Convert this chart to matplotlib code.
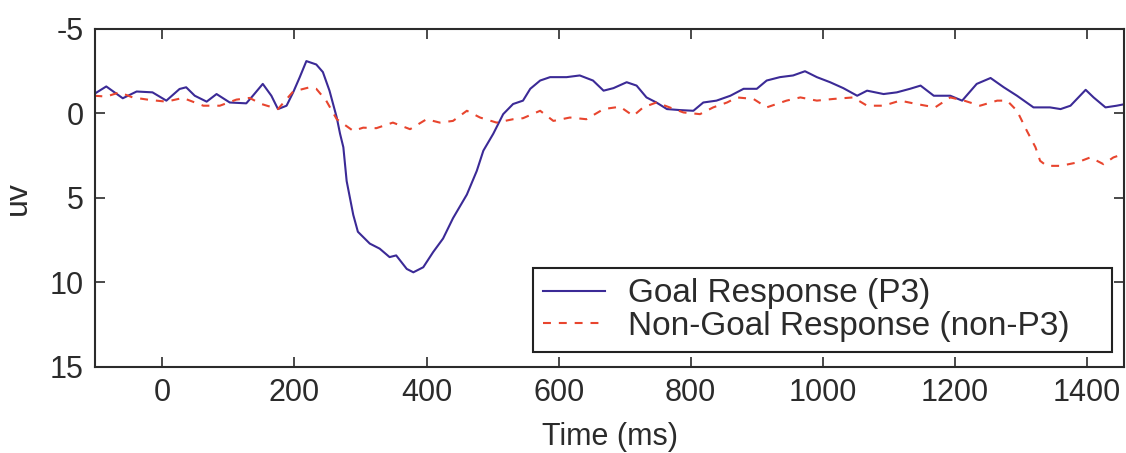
import numpy as np
import matplotlib.pyplot as plt

plt.rcParams["font.family"] = ["Liberation Sans", "DejaVu Sans"]
plt.rcParams["axes.unicode_minus"] = False

# Averaged ERP traces (uV, negative up) read at irregular times (ms)
goal_t = [-103, -85, -60, -39, -15, 6, 26, 36, 49, 67, 82, 102, 127, 137, 152,
          165, 175, 188, 198, 208, 218, 233, 243, 253, 264, 269, 274, 279, 289,
          296, 314, 329, 344, 354, 370, 380, 395, 410, 425, 440, 461, 476, 486,
          501, 516, 531, 546, 557, 572, 587, 612, 632, 652, 668, 683, 703, 718,
          733, 748, 764, 784, 804, 819, 839, 860, 880, 900, 915, 935, 955, 973,
          991, 1011, 1031, 1052, 1067, 1092, 1112, 1132, 1148, 1168, 1193, 1211,
          1233, 1254, 1274, 1294, 1319, 1344, 1360, 1375, 1398, 1410, 1428,
          1445, 1458]
goal_uv = [-1.16, -1.6, -0.9, -1.3, -1.25, -0.76, -1.45, -1.55, -1.05, -0.7,
           -1.15, -0.65, -0.6, -1.05, -1.75, -1.05, -0.26, -0.46, -1.25, -2.15,
           -3.1, -2.9, -2.45, -1.35, 0.24, 1.2, 2.0, 4.0, 6.0, 7.0, 7.7, 8.0,
           8.5, 8.4, 9.2, 9.4, 9.1, 8.2, 7.4, 6.2, 4.8, 3.4, 2.2, 1.2, 0.04,
           -0.56, -0.76, -1.46, -1.95, -2.15, -2.15, -2.25, -1.95, -1.35, -1.5,
           -1.85, -1.65, -0.95, -0.65, -0.26, -0.2, -0.16, -0.65, -0.76, -1.05,
           -1.46, -1.46, -1.95, -2.15, -2.25, -2.5, -2.15, -1.85, -1.5, -1.05,
           -1.35, -1.15, -1.25, -1.46, -1.65, -1.05, -1.05, -0.76, -1.75, -2.1,
           -1.55, -1.05, -0.36, -0.36, -0.26, -0.46, -1.4, -0.95, -0.36, -0.46,
           -0.56]

nongoal_t = [-103, -85, -65, -45, -19, 6, 31, 62, 87, 112, 132, 150, 175, 198,
             223, 233, 248, 264, 289, 304, 324, 349, 375, 400, 420, 440, 461,
             481, 506, 531, 546, 572, 592, 617, 642, 668, 693, 713, 728, 748,
             768, 789, 814, 834, 855, 870, 895, 915, 945, 966, 991, 1016, 1046,
             1067, 1092, 1117, 1142, 1170, 1193, 1214, 1238, 1264, 1279, 1294,
             1309, 1322, 1329, 1339, 1360, 1385, 1405, 1425, 1440, 1455]
nongoal_uv = [-1.05, -1.0, -1.25, -0.95, -0.8, -0.7, -0.92, -0.46, -0.46, -0.82,
              -0.92, -0.56, -0.26, -1.3, -1.55, -1.46, -0.76, 0.34, 1.03, 0.84,
              0.87, 0.54, 0.93, 0.34, 0.54, 0.44, -0.16, 0.24, 0.54, 0.34, 0.28,
              -0.16, 0.44, 0.24, 0.34, -0.26, -0.4, 0.14, -0.36, -0.65, -0.36,
              -0.06, 0.04, -0.36, -0.65, -0.95, -0.86, -0.36, -0.76, -0.95,
              -0.76, -0.86, -0.95, -0.46, -0.46, -0.76, -0.56, -0.36, -0.95,
              -0.76, -0.46, -0.76, -0.76, -0.16, 1.03, 2.0, 2.8, 3.1, 3.1, 2.9,
              2.6, 3.0, 2.6, 2.4]

x_ticks = [0, 200, 400, 600, 800, 1000, 1200, 1400]
y_ticks = [-5, 0, 5, 10, 15]

ink = "#2b2b2b"
fig = plt.figure(figsize=(11.26, 4.53), dpi=100)
ax = fig.add_axes([0.0844, 0.19, 0.9138, 0.746])

ax.plot(goal_t, goal_uv, color="#3b2a96", lw=1.5, label="Goal Response (P3)")
ax.plot(nongoal_t, nongoal_uv, color="#e8452e", lw=1.5, ls=(0, (3.8, 3.8)),
        label="Non-Goal Response (non-P3)")

ax.set_xlim(-102, 1456)
ax.set_ylim(15, -5)
ax.set_xticks(x_ticks)
ax.set_yticks(y_ticks)
ax.tick_params(direction="in", length=7, width=1.2, colors=ink, labelsize=22,
               top=True, right=True, pad=8)
for s in ax.spines.values():
    s.set_color(ink)
    s.set_linewidth(1.5)

ax.set_xlabel("Time (ms)", fontsize=22, color=ink, labelpad=10)
ax.set_ylabel("uv", fontsize=23, color=ink, labelpad=12)

# legend box stretched across the lower right of the axes
leg = ax.legend(loc="lower left", bbox_to_anchor=(0.4257, 0.044, 0.5627, 0.25),
                mode="expand", fontsize=24, fancybox=False, framealpha=1,
                edgecolor="#222222", handlelength=1.85, borderpad=0.3,
                labelspacing=0.05, handletextpad=0.7, borderaxespad=0)
leg.get_frame().set_linewidth(1.5)
for txt in leg.get_texts():
    txt.set_color(ink)

fig.savefig("out.png", dpi=100)
